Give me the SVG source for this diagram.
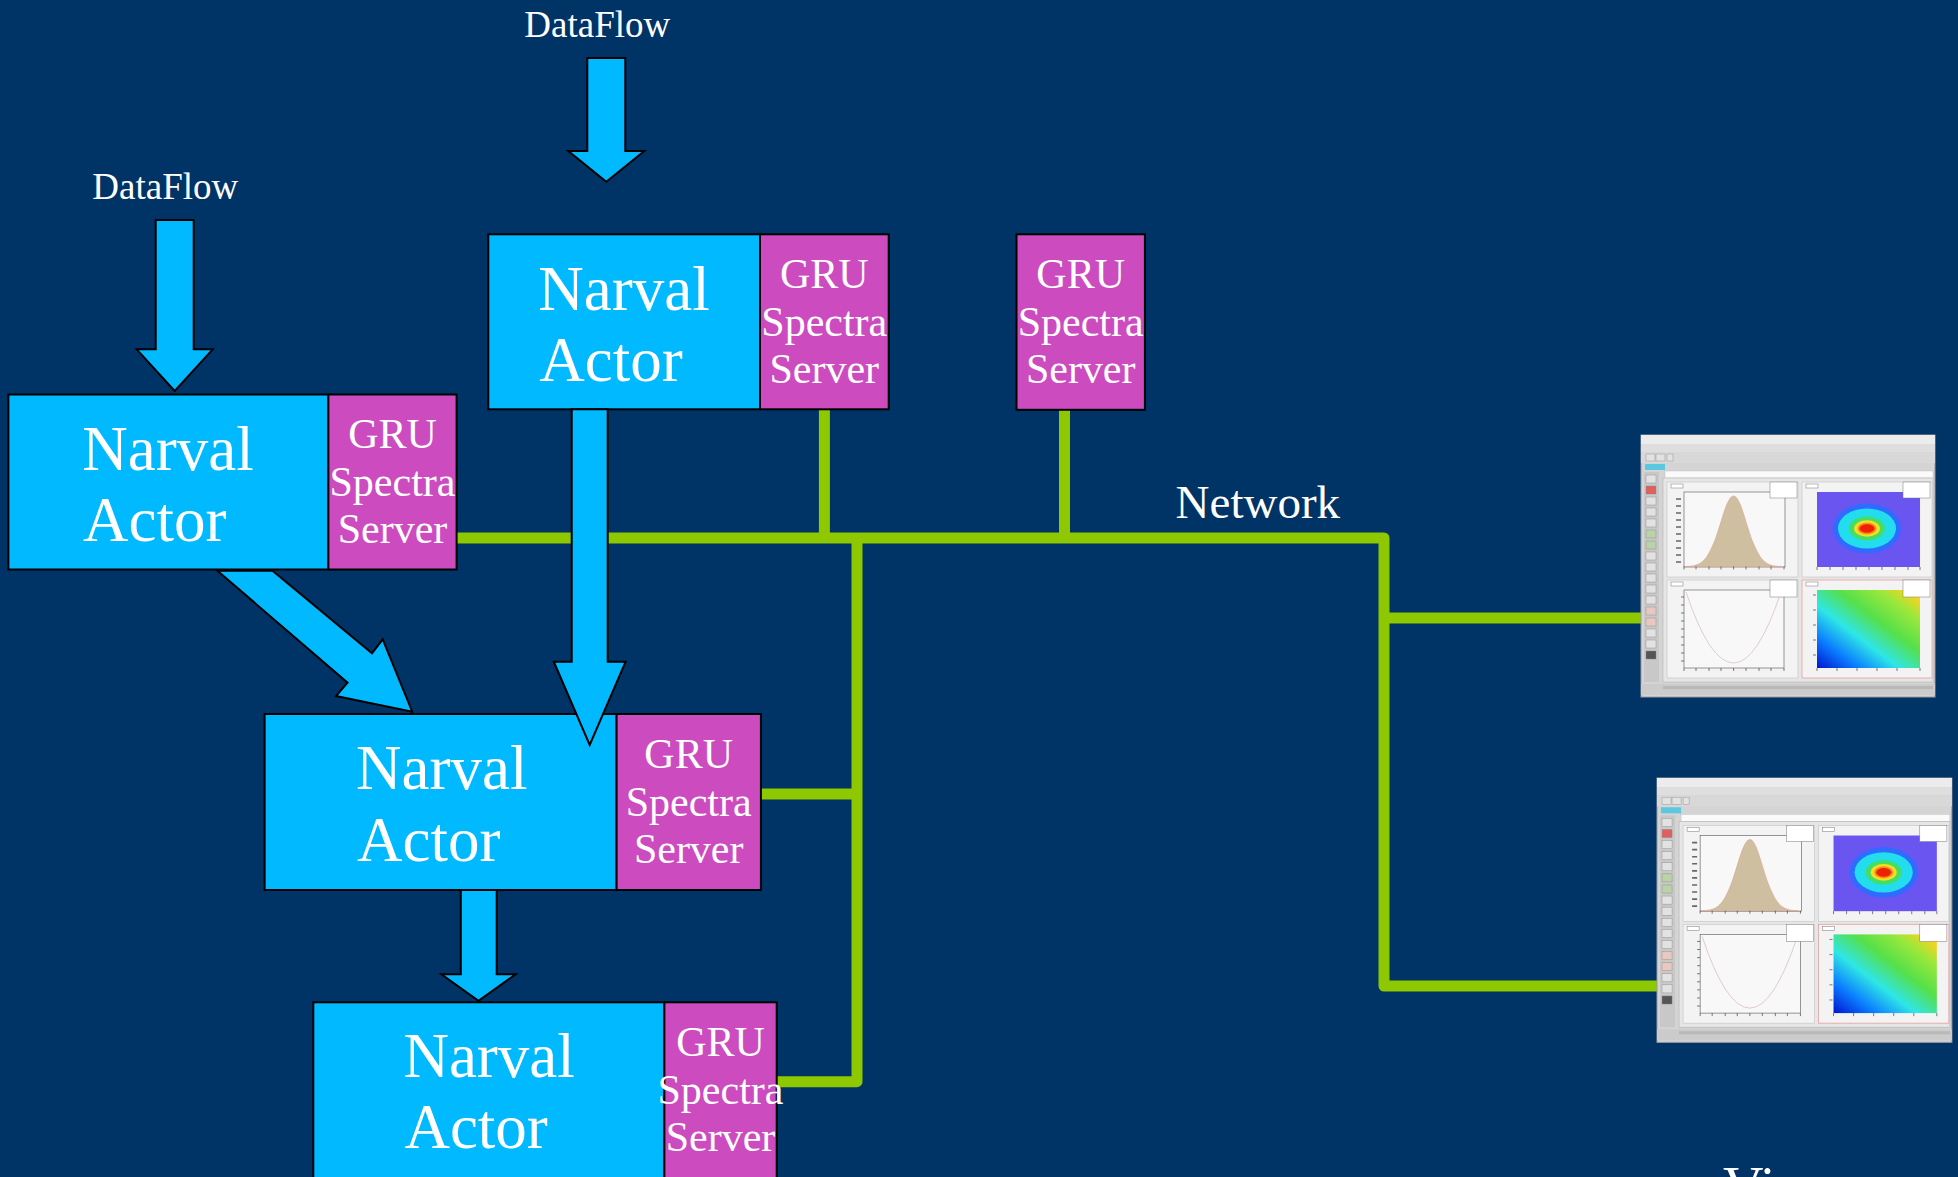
<svg xmlns="http://www.w3.org/2000/svg" width="1958" height="1177" viewBox="0 0 1958 1177">
<style>
.actor{fill:#00b9ff;stroke:#000;stroke-width:2}
.gru{fill:#cc4cc0;stroke:#000;stroke-width:2}
.flow{fill:#00b9ff;stroke:#000;stroke-width:2;stroke-linejoin:miter}
.net{fill:none;stroke:#8dc800;stroke-width:11;stroke-linejoin:round}
text{font-family:"Liberation Serif","Times New Roman",serif;fill:#fff}
.big{font-size:63px}
.small{font-size:42px;text-anchor:middle}
.label{font-size:37px}
.pad{fill:#f3f3f3;stroke:#c4c4c4;stroke-width:0.6}
.frame{fill:#f8f8f8;stroke:#555;stroke-width:0.6}
.stat{fill:#fff;stroke:#777;stroke-width:0.5}
.tick{stroke:#444;stroke-width:0.7;fill:none}
.lab{stroke:#666;stroke-width:1.6;fill:none}
.icon{fill:#e2e2e2;stroke:#888;stroke-width:0.4}
</style>
<defs>
<linearGradient id="grad2d" x1="0" y1="1" x2="1" y2="0">
<stop offset="0" stop-color="#0015d0"/>
<stop offset="0.2" stop-color="#0a7dff"/>
<stop offset="0.4" stop-color="#2ee6e6"/>
<stop offset="0.6" stop-color="#55e04a"/>
<stop offset="0.8" stop-color="#9ae83a"/>
<stop offset="0.95" stop-color="#ffd21e"/>
<stop offset="1" stop-color="#ffb000"/>
</linearGradient>
<g id="viewer">
<rect x="0" y="0" width="294" height="262" fill="#d4d4d4" stroke="#9a9a9a" stroke-width="1"/>
<rect x="0" y="0" width="294" height="9" fill="#ececec"/>
<rect x="0" y="9" width="294" height="8" fill="#dedede"/>
<rect x="0" y="17" width="294" height="11" fill="#d8d8d8"/>
<rect x="5" y="19" width="9" height="7" class="icon"/>
<rect x="15" y="19" width="9" height="7" class="icon"/>
<rect x="26" y="19" width="6" height="7" class="icon"/>
<rect x="4" y="29" width="20" height="6" fill="#5ac8e0"/>
<rect x="24" y="36" width="268" height="7" fill="#fafafa" stroke="#bbb" stroke-width="0.4"/>
<rect x="3" y="37" width="15" height="210" fill="#c8c8c8"/>
<g>
<rect x="5" y="40" width="10" height="8" class="icon"/>
<rect x="5" y="51" width="10" height="8" fill="#e06060" stroke="#888" stroke-width="0.4"/>
<rect x="5" y="62" width="10" height="8" class="icon"/>
<rect x="5" y="73" width="10" height="8" class="icon"/>
<rect x="5" y="84" width="10" height="8" class="icon"/>
<rect x="5" y="95" width="10" height="8" fill="#b9d2a8" stroke="#888" stroke-width="0.4"/>
<rect x="5" y="106" width="10" height="8" fill="#b9d2a8" stroke="#888" stroke-width="0.4"/>
<rect x="5" y="117" width="10" height="8" class="icon"/>
<rect x="5" y="128" width="10" height="8" class="icon"/>
<rect x="5" y="139" width="10" height="8" class="icon"/>
<rect x="5" y="150" width="10" height="8" class="icon"/>
<rect x="5" y="161" width="10" height="8" class="icon"/>
<rect x="5" y="172" width="10" height="8" fill="#e8c8c0" stroke="#888" stroke-width="0.4"/>
<rect x="5" y="183" width="10" height="8" fill="#e8c8c0" stroke="#888" stroke-width="0.4"/>
<rect x="5" y="194" width="10" height="8" class="icon"/>
<rect x="5" y="205" width="10" height="8" class="icon"/>
<rect x="5" y="216" width="10" height="8" fill="#555" stroke="#888" stroke-width="0.4"/>
</g>
<rect x="22" y="43" width="270" height="204" fill="#e6e6e6" stroke="#aaa" stroke-width="0.5"/>
<rect x="26" y="47" width="131" height="95" class="pad"/>
<rect x="30" y="49" width="12" height="4" class="stat"/>
<rect x="43" y="57" width="101" height="75" class="frame"/>
<path d="M44 131.5 C62 131.5 66 124 74 105 C81 86 86 61 92.6 61 C99 61 104 86 111 105 C119 124 123 131.5 141 131.5 Z" fill="#cdbf9f" stroke="#e2a090" stroke-width="0.6"/>
<path class="lab" d="M35 64h5M35 71h5M35 78h5M35 85h5M35 92h5M35 99h5M35 106h5M35 113h5M35 120h5M35 127h5"/>
<path class="tick" d="M43 131.5v3M55 131.5v3M68 131.5v3M80 131.5v3M92.6 131.5v3M105 131.5v3M118 131.5v3M130 131.5v3M143 131.5v3"/>
<rect x="129" y="47" width="27" height="16" class="stat"/>
<rect x="161" y="47" width="130" height="95" class="pad"/>
<rect x="165" y="49" width="12" height="4" class="stat"/>
<rect x="176" y="57" width="103" height="75" fill="#6a55f0"/>
<ellipse cx="226" cy="93.5" rx="34" ry="25" fill="#2f6bff"/>
<ellipse cx="226" cy="93.5" rx="29" ry="20" fill="#22ddee"/>
<ellipse cx="226" cy="93.5" rx="18" ry="12" fill="#44dd66"/>
<ellipse cx="226" cy="93.5" rx="13" ry="8.3" fill="#f0e020"/>
<ellipse cx="226" cy="93.5" rx="9.5" ry="6" fill="#ff8a20"/>
<ellipse cx="226" cy="93.5" rx="7.5" ry="4.3" fill="#ee2200"/>
<path class="tick" d="M176 132v3M189 132v3M202 132v3M215 132v3M228 132v3M241 132v3M254 132v3M267 132v3M279 132v3"/>
<rect x="262" y="47" width="27" height="16" class="stat"/>
<rect x="26" y="145" width="131" height="98" class="pad"/>
<rect x="30" y="147" width="12" height="4" class="stat"/>
<rect x="43" y="155" width="100" height="78" class="frame"/>
<path d="M45 157 Q92.6 299 140 157" fill="none" stroke="#d9c0c0" stroke-width="0.8"/>
<path class="tick" d="M40 162h3M40 170h3M40 178h3M40 186h3M40 194h3M40 202h3M40 210h3M40 218h3M40 226h3M43 233v3M55 233v3M68 233v3M80 233v3M92.6 233v3M105 233v3M118 233v3M130 233v3M143 233v3"/>
<rect x="129" y="145" width="27" height="17" class="stat"/>
<rect x="161" y="145" width="130" height="98" fill="#f3f3f3" stroke="#e5a0a0" stroke-width="0.8"/>
<rect x="165" y="147" width="12" height="4" class="stat"/>
<rect x="176" y="155" width="103" height="78" fill="url(#grad2d)"/>
<path class="tick" d="M172 160h3M172 175h3M172 190h3M172 205h3M172 220h3M176 233v3M196 233v3M216 233v3M236 233v3M256 233v3M279 233v3"/>
<rect x="262" y="145" width="27" height="17" class="stat"/>
<rect x="0" y="249" width="294" height="11" fill="#cbcbcb"/>
<rect x="22" y="251" width="270" height="3" fill="#b8b8b8"/>
</g>
</defs>
<rect x="0" y="0" width="1958" height="1177" fill="#003366"/>

<g id="connectors">
<path class="net" d="M456 538 H1384 V986 H1658"/>
<path class="net" d="M1384 618 H1641"/>
<path class="net" d="M824.4 409 V538"/>
<path class="net" d="M1064.5 410 V538"/>
<path class="net" d="M857 538 V1081.7 H777"/>
<path class="net" d="M760 794 H857"/>
</g>

<g id="actor1">
<rect class="actor" x="8.4" y="394.5" width="320" height="175"/>
<rect class="gru" x="328.4" y="394.5" width="128.2" height="175"/>
<text class="big" x="82.3" y="470">Narval</text>
<text class="big" x="83" y="541">Actor</text>
<text class="small" x="392.5" y="448.3">GRU</text>
<text class="small" x="392.5" y="495.8">Spectra</text>
<text class="small" x="392.5" y="543.3">Server</text>
</g>

<g id="actor2">
<rect class="actor" x="488.3" y="234.3" width="271.7" height="175"/>
<rect class="gru" x="760" y="234.3" width="128.7" height="175"/>
<text class="big" x="538.3" y="310">Narval</text>
<text class="big" x="539.3" y="381">Actor</text>
<text class="small" x="824.3" y="288.3">GRU</text>
<text class="small" x="824.3" y="335.8">Spectra</text>
<text class="small" x="824.3" y="383.3">Server</text>
</g>

<g id="gru-standalone">
<rect class="gru" x="1016.5" y="234.3" width="128.4" height="175.5"/>
<text class="small" x="1080.7" y="288.3">GRU</text>
<text class="small" x="1080.7" y="335.8">Spectra</text>
<text class="small" x="1080.7" y="383.3">Server</text>
</g>

<g id="actor3">
<rect class="actor" x="264.6" y="714" width="352" height="176"/>
<rect class="gru" x="616.6" y="714" width="144.3" height="176"/>
<text class="big" x="356" y="789.3">Narval</text>
<text class="big" x="357" y="860.7">Actor</text>
<text class="small" x="688.7" y="768.3">GRU</text>
<text class="small" x="688.7" y="815.8">Spectra</text>
<text class="small" x="688.7" y="863.3">Server</text>
</g>

<g id="actor4">
<rect class="actor" x="313.3" y="1002.3" width="351.1" height="190"/>
<rect class="gru" x="664.4" y="1002.3" width="112.3" height="190"/>
<text class="big" x="403.4" y="1076.7">Narval</text>
<text class="big" x="404.4" y="1148.3">Actor</text>
<text class="small" x="720.5" y="1056">GRU</text>
<text class="small" x="720.5" y="1103.5">Spectra</text>
<text class="small" x="720.5" y="1151">Server</text>
</g>

<g id="dataflow-arrows">
<polygon class="flow" points="155.7,220 193.7,220 193.7,349.3 212.7,349.3 174.7,391 136.7,349.3 155.7,349.3"/>
<polygon class="flow" points="587.3,58 625.3,58 625.3,151 644.3,151 606.3,181.7 568.3,151 587.3,151"/>
<polygon class="flow" points="571.7,409.3 607.7,409.3 607.7,661.7 625.6,661.7 589.7,745 553.8,661.7 571.7,661.7"/>
<polygon class="flow" points="460.8,890 496.7,890 496.7,974.3 515.7,974.3 478.5,1000.7 441.4,974.3 460.8,974.3"/>
<polygon class="flow" points="217.4,570.7 272.5,570.7 372,653.3 382.7,639.3 412.2,711.7 336,696 347.5,682.7"/>
</g>

<g id="labels">
<text class="label" x="524.3" y="36.7">DataFlow</text>
<text class="label" x="92.3" y="199.3">DataFlow</text>
<text x="1175.6" y="517.7" style="font-size:47px">Network</text>
<text x="1723" y="1206" style="font-size:56px">Vi</text>
</g>

<g id="viewer1">
<use href="#viewer" transform="translate(1641,435)"/>
</g>
<g id="viewer2">
<use href="#viewer" transform="translate(1657,778) scale(1.003,1.009)"/>
</g>
</svg>
